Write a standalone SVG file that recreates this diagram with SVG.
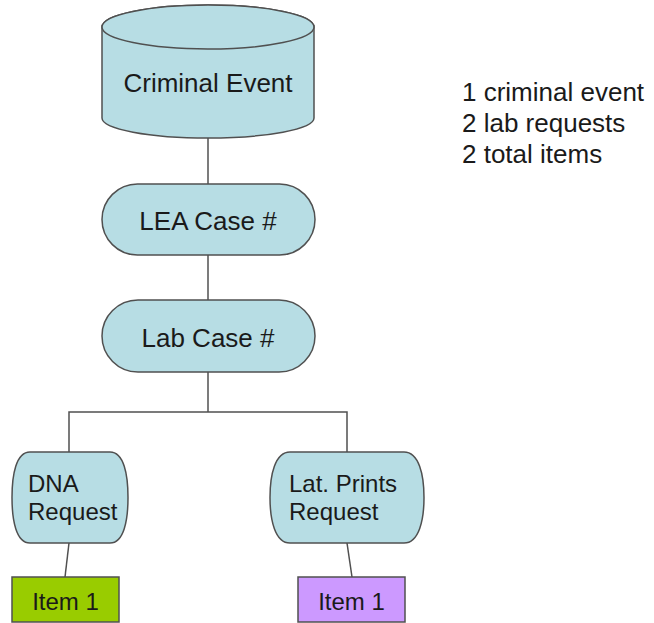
<svg xmlns="http://www.w3.org/2000/svg" width="654" height="623" viewBox="0 0 654 623">
<style>
.shape{fill:#b7dde4;stroke:#505050;stroke-width:1.5}
.item{stroke:#505050;stroke-width:1.5}
.lbl{font-family:"Liberation Sans",Arial,sans-serif;fill:#1a1a1a}
.big{font-size:26px}
.sm{font-size:24px}
.conn{fill:none;stroke:#505050;stroke-width:1.5}
</style>
<rect width="654" height="623" fill="#ffffff"/>
<g id="connectors">
<line class="conn" x1="208" y1="138" x2="208" y2="184"/>
<line class="conn" x1="208" y1="255" x2="208" y2="300"/>
<line class="conn" x1="208" y1="372" x2="208" y2="412"/>
<polyline class="conn" points="69,452 69,412 347,412 347,452"/>
<line class="conn" x1="69" y1="543" x2="65" y2="577"/>
<line class="conn" x1="347" y1="543" x2="352" y2="577"/>
</g>
<g id="criminal-event">
<path class="shape" d="M102,27 A106,22 0 0 1 314,27 V118 A106,20 0 0 1 102,118 Z"/>
<ellipse class="shape" cx="208" cy="27" rx="106" ry="22"/>
<text class="lbl big" x="208" y="92" text-anchor="middle">Criminal Event</text>
</g>
<g id="lea-case">
<rect class="shape" x="102" y="184" width="213" height="71" rx="35.5"/>
<text class="lbl big" x="208" y="230" text-anchor="middle">LEA Case #</text>
</g>
<g id="lab-case">
<rect class="shape" x="102" y="300" width="213" height="72" rx="36"/>
<text class="lbl big" x="208" y="347" text-anchor="middle">Lab Case #</text>
</g>
<g id="dna-request">
<path class="shape" d="M30,452 H110 C124,452 128,475 128,497.5 C128,520 124,543 110,543 H30 C16,543 12,520 12,497.5 C12,475 16,452 30,452 Z"/>
<text class="lbl sm" x="28" y="492">DNA</text>
<text class="lbl sm" x="28" y="520">Request</text>
</g>
<g id="lat-prints-request">
<path class="shape" d="M290,452 H404 C419,452 424,475 424,497.5 C424,520 419,543 404,543 H290 C275,543 270,520 270,497.5 C270,475 275,452 290,452 Z"/>
<text class="lbl sm" x="289" y="492">Lat. Prints</text>
<text class="lbl sm" x="289" y="520">Request</text>
</g>
<g id="item-dna">
<rect class="item" x="12" y="577" width="107" height="45" fill="#99cc00"/>
<text class="lbl sm" x="65.5" y="610" text-anchor="middle">Item 1</text>
</g>
<g id="item-prints">
<rect class="item" x="298" y="577" width="107" height="45" fill="#cc99ff"/>
<text class="lbl sm" x="351.5" y="610" text-anchor="middle">Item 1</text>
</g>
<g id="summary">
<text class="lbl big" x="462" y="101">1 criminal event</text>
<text class="lbl big" x="462" y="132">2 lab requests</text>
<text class="lbl big" x="462" y="163">2 total items</text>
</g>
</svg>
